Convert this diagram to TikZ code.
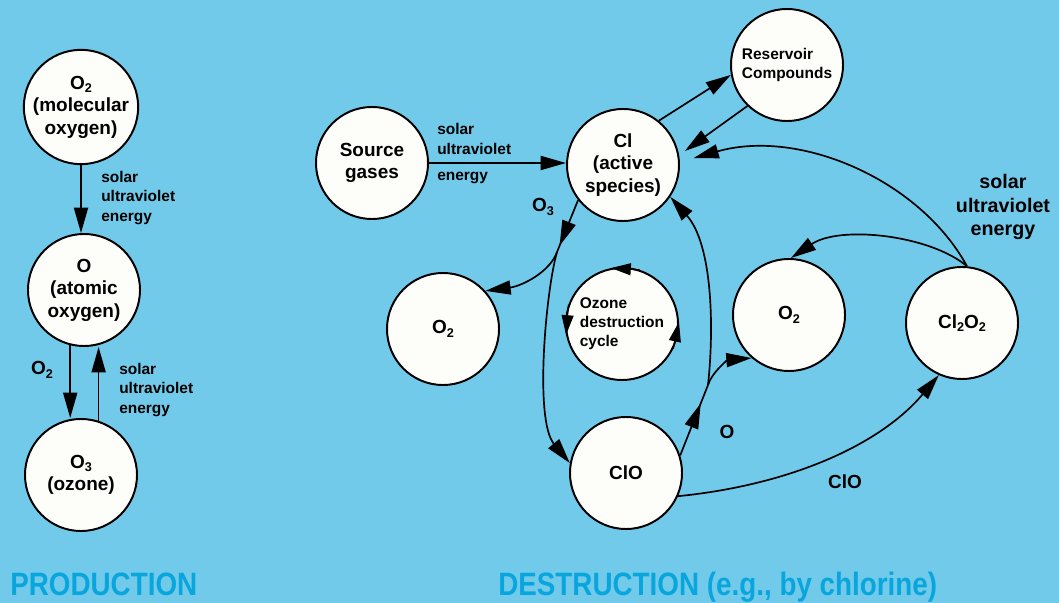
\documentclass[tikz,border=0pt]{standalone}
\usepackage{fontspec}
\setmainfont{Liberation Sans}
\newfontfamily\titlefont{Liberation Sans}[FakeStretch=0.86]
\usetikzlibrary{arrows.meta,decorations.markings,calc}
\definecolor{bgblue}{HTML}{72CAEA}
\definecolor{titleblue}{HTML}{08A6DD}
\definecolor{disc}{HTML}{FDFDFA}
\newcommand{\lowidx}[1]{\raisebox{-0.35ex}{\fontsize{9}{9}\selectfont #1}}
\begin{document}
\begin{tikzpicture}[x=0.025cm,y=-0.025cm,
  ball/.style={circle,draw=black,line width=1.4pt,fill=disc,minimum size=2.8cm,inner sep=0pt,align=center,font=\bfseries\fontsize{13.5}{16}\selectfont},
  smallball/.style={ball,font=\bfseries\fontsize{11}{13.5}\selectfont},
  wire/.style={line width=1.2pt},
  conn/.style={wire,-{Triangle[length=18pt,width=10pt]}},
  tipc/.style={line width=0.8pt,-{Triangle[length=14pt,width=8.5pt]}},
  midarr/.style={postaction={decorate},decoration={markings,mark=at position #1 with {\arrow{Triangle[length=18pt,width=10pt]}}}},
  lbl/.style={font=\bfseries\fontsize{11}{14}\selectfont,align=left,inner sep=0pt},
  biglbl/.style={font=\bfseries\fontsize{13.5}{16}\selectfont,inner sep=0pt},
  rlbl/.style={font=\bfseries\fontsize{14}{16.5}\selectfont,align=center,inner sep=0pt},
  ttl/.style={font=\titlefont\bfseries\fontsize{23}{26}\selectfont,text=titleblue,inner sep=0pt,anchor=base west}
]
\fill[bgblue] (0,0) rectangle (1059,603);
\useasboundingbox (0,0) rectangle (1059,603);

% ---------- PRODUCTION ----------
\node[ball] (mol) at (81,107) {O\lowidx{2}\\(molecular\\oxygen)};
\node[ball] (atom) at (84,290) {O\\(atomic\\oxygen)};
\node[ball] (ozone) at (81,475) {O\lowidx{3}\\(ozone)};

\draw[conn] (mol.south) -- (mol.south |- atom.north);
\draw[conn] (atom.256) -- (atom.256 |- ozone.north);
\draw[conn] (ozone.72) -- (ozone.72 |- atom.south);

\node[lbl,anchor=west] (l1) at (101,198) {solar\\ultraviolet\\energy};
\node[biglbl] (l2) at (42,370) {O\lowidx{2}};
\node[lbl,anchor=west] (l3) at (119,390) {solar\\ultraviolet\\energy};

\node[ttl] (t1) at (10,595) {PRODUCTION};

% ---------- DESTRUCTION ----------
\node[ball] (src) at (372,163) {Source\\gases};
\node[ball] (cl) at (623,165) {Cl\\(active\\species)};
\node[smallball,align=left] (res) at (787,65) {Reservoir\\Compounds};
\node[ball] (o2a) at (443,329) {O\lowidx{2}};
\node[smallball,align=left] (cyc) at (622,324) {Ozone\\destruction\\cycle};
\node[ball] (clo) at (626,473) {ClO};
\node[ball] (o2b) at (789,315) {O\lowidx{2}};
\node[ball] (cl2o2) at (962,323) {Cl\lowidx{2}O\lowidx{2}};

\coordinate (splitL) at (557,252);
\coordinate (splitR) at (708,385);

% source -> Cl
\draw[conn] (src.east) -- (src.east -| cl.west);
\node[lbl,anchor=west] (l4) at (437,139) {solar\\ultraviolet};
\node[lbl,anchor=west] (l5) at (437,178) {energy};

% Cl <-> reservoir
\draw[conn] (cl.51) -- (res.190);
\draw[conn,shorten >=5pt] (res.226) -- (cl.10);

% Cl -> O2 and ClO (left trunk)
\draw[wire,midarr=0.88] (cl.218) -- (splitL);
\draw[conn] (splitL) .. controls (550,272) and (522,286) .. (o2a.42);
\draw[conn] (splitL) .. controls (546,290) and (534,420) .. (clo.170);
\node[biglbl] (l6) at (543,207) {O\lowidx{3}};

% ClO -> Cl and O2 (right trunk)
\draw[wire,midarr=0.74] (clo.18) -- (splitR);
\draw[conn] (splitR) .. controls (714,330) and (713,245) .. (cl.-34);
\draw[conn] (splitR) .. controls (712,372) and (728,360) .. (o2b.229);
\node[biglbl] (l7) at (727,432) {O};

% ClO -> Cl2O2
\draw[conn] (clo.-24) .. controls (790,485) and (880,445) .. (cl2o2.246);
\node[biglbl] (l8) at (845,482) {ClO};

% Cl2O2 -> Cl and O2
\draw[conn,shorten >=10pt] (cl2o2.85) .. controls (920,180) and (800,128) .. (cl.3);
\draw[conn] (cl2o2.85) .. controls (930,235) and (840,225) .. (o2b.88);
\node[rlbl] (l9) at (1003,207) {solar\\ultraviolet\\energy};

% cycle arrows
\draw[tipc] (cyc.72) -- (cyc.101);
\draw[tipc] (cyc.160) -- (cyc.191);
\draw[tipc] (cyc.334) -- (cyc.2);

\node[ttl] (t2) at (498,595) {DESTRUCTION (e.g., by chlorine)};
\end{tikzpicture}
\end{document}
